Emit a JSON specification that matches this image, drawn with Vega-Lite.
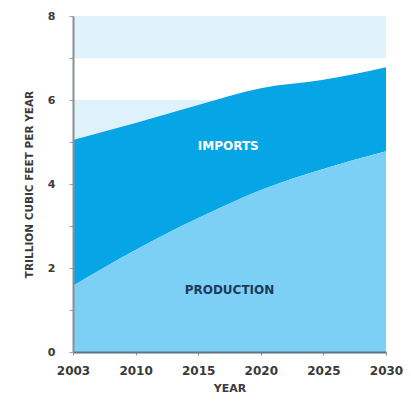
{
  "$schema": "https://vega.github.io/schema/vega-lite/v6.json",
  "autosize": "none",
  "width": 313,
  "height": 336,
  "padding": {"left": 73, "top": 16, "right": 25, "bottom": 55},
  "background": "white",
  "config": {"view": {"stroke": null}, "font": "DejaVu Sans"},
  "datasets": {
    "bands": [{"lo": 7, "hi": 8}, {"lo": 5, "hi": 6}, {"lo": 3, "hi": 4}, {"lo": 1, "hi": 2}],
    "gas": [
      {"year": 2003, "production": 1.58, "total": 5.05},
      {"year": 2010, "production": 2.43, "total": 5.45},
      {"year": 2015, "production": 3.19, "total": 5.88},
      {"year": 2020, "production": 3.86, "total": 6.28},
      {"year": 2025, "production": 4.36, "total": 6.48},
      {"year": 2030, "production": 4.78, "total": 6.78}
    ],
    "labels": [
      {"year": 2017.4, "v": 4.9, "text": "IMPORTS", "kind": "imp"},
      {"year": 2017.5, "v": 1.48, "text": "PRODUCTION", "kind": "prod"}
    ]
  },
  "layer": [
    {
      "data": {"name": "bands"},
      "mark": {"type": "rect", "color": "#dff2fb"},
      "encoding": {
        "y": {"field": "hi", "type": "quantitative", "scale": {"domain": [0, 8]}},
        "y2": {"field": "lo"}
      }
    },
    {
      "data": {"name": "gas"},
      "mark": {"type": "area", "color": "#05a5e6", "interpolate": "monotone"},
      "encoding": {
        "x": {"field": "year", "type": "quantitative"},
        "y": {"field": "total", "type": "quantitative"},
        "y2": {"field": "production"}
      }
    },
    {
      "data": {"name": "gas"},
      "mark": {"type": "area", "color": "#7dd0f5", "interpolate": "monotone"},
      "encoding": {
        "x": {
          "field": "year", "type": "quantitative",
          "scale": {"domain": [2003, 2010, 2030], "range": [0, 62.6, 313], "nice": false, "zero": false},
          "axis": {
            "zindex": 2,
            "title": "YEAR", "values": [2003, 2010, 2015, 2020, 2025, 2030], "format": "d",
            "grid": false, "domainColor": "#5b7486", "domainWidth": 2, "tickColor": "#8a9aa5",
            "tickSize": 3, "labelFont": "DejaVu Sans", "labelFontWeight": "bold",
            "labelFontSize": 12, "labelColor": "#3a3a3a", "labelPadding": 10,
            "titleFont": "DejaVu Sans", "titleFontWeight": "bold", "titleFontSize": 11,
            "titleColor": "#3a3a3a", "titlePadding": 6, "labelFlush": false
          }
        },
        "y": {
          "field": "production", "type": "quantitative",
          "scale": {"domain": [0, 8], "nice": false},
          "axis": {
            "zindex": 2,
            "title": "TRILLION CUBIC FEET PER YEAR", "values": [0, 1, 2, 3, 4, 5, 6, 7, 8],
            "labelExpr": "datum.value % 2 == 0 ? datum.label : ''",
            "grid": false, "domainColor": "#8a8f94", "domainWidth": 2, "tickColor": "#9aa0a5",
            "tickSize": 4, "labelFont": "DejaVu Sans", "labelFontWeight": "bold",
            "labelFontSize": 11, "labelColor": "#3a3a3a", "labelPadding": 14,
            "titleFont": "DejaVu Sans", "titleFontWeight": "bold", "titleFontSize": 10.5,
            "titleColor": "#3a3a3a", "titlePadding": 13
          }
        },
        "y2": {"datum": 0}
      }
    },
    {
      "data": {"name": "labels"},
      "mark": {"type": "text", "fontWeight": "bold", "fontSize": 12, "font": "DejaVu Sans"},
      "encoding": {
        "x": {"field": "year", "type": "quantitative"},
        "y": {"field": "v", "type": "quantitative"},
        "text": {"field": "text"},
        "color": {
          "field": "kind", "type": "nominal", "legend": null,
          "scale": {"domain": ["imp", "prod"], "range": ["#ffffff", "#1d3a5a"]}
        }
      }
    }
  ]
}
